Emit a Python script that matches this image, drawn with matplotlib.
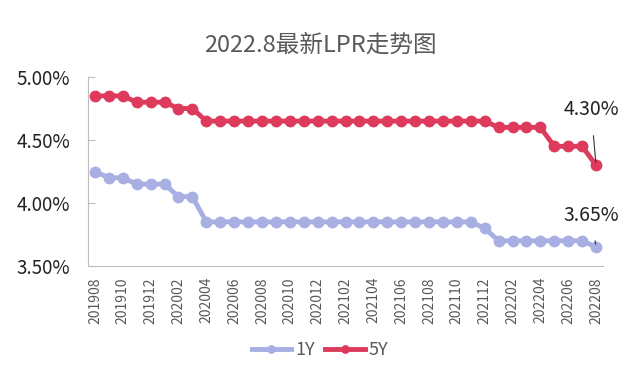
import matplotlib
matplotlib.use("Agg")
import matplotlib.pyplot as plt
from matplotlib.ticker import FuncFormatter

plt.rcParams['font.family'] = ['Noto Sans CJK SC', 'DejaVu Sans']

# monthly 201908 .. 202208
months = []
for y in range(2019, 2023):
    for m in range(1, 13):
        if (y == 2019 and m < 8) or (y == 2022 and m > 8):
            continue
        months.append(f"{y}{m:02d}")

lpr_1y = [4.25, 4.20, 4.20, 4.15, 4.15, 4.15, 4.05, 4.05, 3.85, 3.85,
          3.85, 3.85, 3.85, 3.85, 3.85, 3.85, 3.85, 3.85, 3.85, 3.85,
          3.85, 3.85, 3.85, 3.85, 3.85, 3.85, 3.85, 3.85, 3.80, 3.70,
          3.70, 3.70, 3.70, 3.70, 3.70, 3.70, 3.65]
lpr_5y = [4.85, 4.85, 4.85, 4.80, 4.80, 4.80, 4.75, 4.75, 4.65, 4.65,
          4.65, 4.65, 4.65, 4.65, 4.65, 4.65, 4.65, 4.65, 4.65, 4.65,
          4.65, 4.65, 4.65, 4.65, 4.65, 4.65, 4.65, 4.65, 4.65, 4.60,
          4.60, 4.60, 4.60, 4.45, 4.45, 4.45, 4.30]

c1 = '#A7AFE3'
c5 = '#DE3A5C'
grey = '#595959'

fig = plt.figure(figsize=(6.4, 3.76), dpi=100)
ax = fig.add_axes([88 / 640, 1 - 266 / 376, 515 / 640, 189 / 376])

x = list(range(len(months)))
ax.plot(x, lpr_1y, color=c1, lw=3.5, marker='o', ms=7.5, label='1Y')
ax.plot(x, lpr_5y, color=c5, lw=3.5, marker='o', ms=7.5, label='5Y')

ax.set_xlim(-0.5, len(months) - 0.5)
ax.set_ylim(3.5, 5.0)
ax.set_yticks([3.5, 4.0, 4.5, 5.0])
ax.yaxis.set_major_formatter(FuncFormatter(lambda v, p: f"{v:.2f}%"))
ax.tick_params(axis='y', labelsize=13.5, colors='#222222', length=5, direction='in',
               color='#bfbfbf', pad=13)
ax.set_xticks(x[::2])
ax.set_xticklabels(months[::2], rotation=90, fontsize=10, color=grey)
ax.tick_params(axis='x', length=0, pad=8)

for s in ['top', 'right']:
    ax.spines[s].set_visible(False)
ax.spines['left'].set_color('#bfbfbf')
ax.spines['bottom'].set_color('#bfbfbf')

# end labels
ax.annotate(f"{lpr_5y[-1]:.2f}%", xy=(x[-1], lpr_5y[-1]), xytext=(x[-1] - 0.35, 4.655),
            ha='center', va='bottom', fontsize=14, color='#222222',
            arrowprops=dict(arrowstyle='-', color='#333333', lw=0.8, shrinkA=9, shrinkB=2))
ax.annotate(f"{lpr_1y[-1]:.2f}%", xy=(x[-1], lpr_1y[-1]), xytext=(x[-1] - 0.35, 3.82),
            ha='center', va='bottom', fontsize=14, color='#222222',
            arrowprops=dict(arrowstyle='-', color='#333333', lw=0.8, shrinkA=9, shrinkB=2))

fig.text(0.5, 1 - 45 / 376, '2022.8最新LPR走势图', ha='center', va='center',
         fontsize=17, color=grey)

fig.legend(loc='center', bbox_to_anchor=(0.5, 1 - 350 / 376), ncol=2, frameon=False,
           fontsize=13, handlelength=2.2, columnspacing=0.6, handletextpad=0.2,
           markerscale=0.7, labelcolor=grey)

fig.savefig('out.png', dpi=100)
